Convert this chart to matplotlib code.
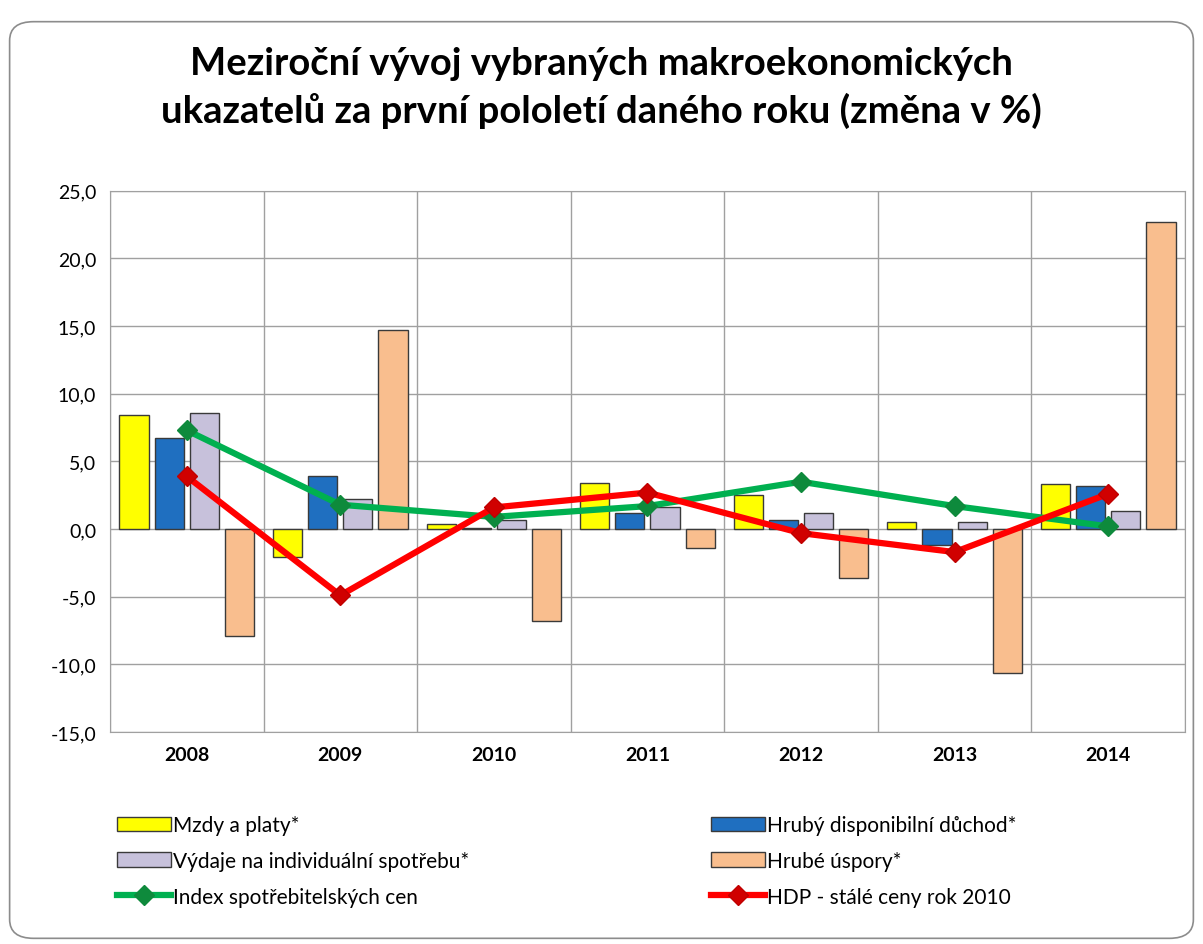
import matplotlib.pyplot as plt
import numpy as np
from matplotlib.patches import FancyBboxPatch, Patch
from matplotlib.lines import Line2D

plt.rcParams['font.family'] = ['Lato', 'DejaVu Sans']

# data
years = ['2008', '2009', '2010', '2011', '2012', '2013', '2014']
mzdy = [8.4, -2.1, 0.4, 3.4, 2.5, 0.5, 3.3]
duchod = [6.7, 3.9, 0.1, 1.2, 0.7, -1.2, 3.2]
vydaje = [8.6, 2.2, 0.7, 1.6, 1.2, 0.5, 1.3]
uspory = [-7.9, 14.7, -6.8, -1.4, -3.6, -10.6, 22.7]
cpi = [7.3, 1.8, 0.9, 1.7, 3.5, 1.7, 0.2]
hdp = [3.9, -4.9, 1.6, 2.7, -0.3, -1.7, 2.6]

bar_series = [
    (mzdy, '#FFFF00', 'Mzdy a platy*'),
    (duchod, '#1F6FC0', 'Hrubý disponibilní důchod*'),
    (vydaje, '#C7C1DB', 'Výdaje na individuální spotřebu*'),
    (uspory, '#F9BE8E', 'Hrubé úspory*'),
]

fig = plt.figure(figsize=(12.03, 9.45), dpi=100)
# rounded chart-area border
fig.patches.append(FancyBboxPatch((0.008, 0.006), 0.984, 0.97,
                                  boxstyle='round,pad=0,rounding_size=0.02',
                                  transform=fig.transFigure, fill=False,
                                  edgecolor='#8c8c8c', linewidth=1.2))

ax = fig.add_axes([0.0914, 0.2243, 0.8936, 0.5727])
x = np.arange(len(years))
step = 0.229
width = 0.19
for i, (vals, col, lab) in enumerate(bar_series):
    ax.bar(x + (i - 1.5) * step, vals, width, color=col, edgecolor='#3a3a3a',
           linewidth=1.0, zorder=2)

ax.plot(x, cpi, color='#00B050', lw=4.5, marker='D', ms=10,
        mfc='#0E8A3C', mec='#0E8A3C', zorder=3)
ax.plot(x, hdp, color='#FF0000', lw=4.5, marker='D', ms=10,
        mfc='#D00000', mec='#C00000', zorder=4)

ax.set_xlim(-0.5, len(years) - 0.5)
ax.set_ylim(-15, 25)
yt = np.arange(-15, 26, 5)
ax.set_yticks(yt)
ax.set_yticklabels([('%.1f' % v).replace('.', ',') for v in yt], fontsize=14)
ax.set_xticks(x)
ax.set_xticklabels(years, fontsize=14, fontweight='bold')
ax.set_xticks(np.arange(-0.5, len(years), 1), minor=True)
ax.tick_params(axis='both', length=0, pad=10)
ax.tick_params(axis='x', which='minor', length=0)
ax.grid(axis='y', color='#a0a0a0', lw=1.0, zorder=0)
ax.grid(axis='x', which='minor', color='#a0a0a0', lw=1.0, zorder=0)
ax.grid(axis='x', which='major', visible=False)
for s in ax.spines.values():
    s.set_color('#a0a0a0')

fig.text(0.5, 0.932, 'Meziroční vývoj vybraných makroekonomických',
         ha='center', va='center', fontsize=27.5, fontweight='bold')
fig.text(0.5, 0.883, 'ukazatelů za první pololetí daného roku (změna v %)',
         ha='center', va='center', fontsize=27.5, fontweight='bold')

handles = [Patch(facecolor=c, edgecolor='#3a3a3a', label=l) for _, c, l in bar_series]
handles.append(Line2D([], [], color='#00B050', lw=4.5, marker='D', ms=10,
                      mfc='#0E8A3C', mec='#0E8A3C', label='Index spotřebitelských cen'))
handles.append(Line2D([], [], color='#FF0000', lw=4.5, marker='D', ms=10,
                      mfc='#D00000', mec='#C00000', label='HDP - stálé ceny rok 2010'))
order = [handles[0], handles[2], handles[4], handles[1], handles[3], handles[5]]
fig.legend(handles=order, ncol=2, loc='upper left', bbox_to_anchor=(0.09, 0.145),
           frameon=False, fontsize=15, handlelength=2.6, handletextpad=0.1,
           columnspacing=11.6, labelspacing=0.75, borderaxespad=0)

fig.savefig('out.png', dpi=100)
